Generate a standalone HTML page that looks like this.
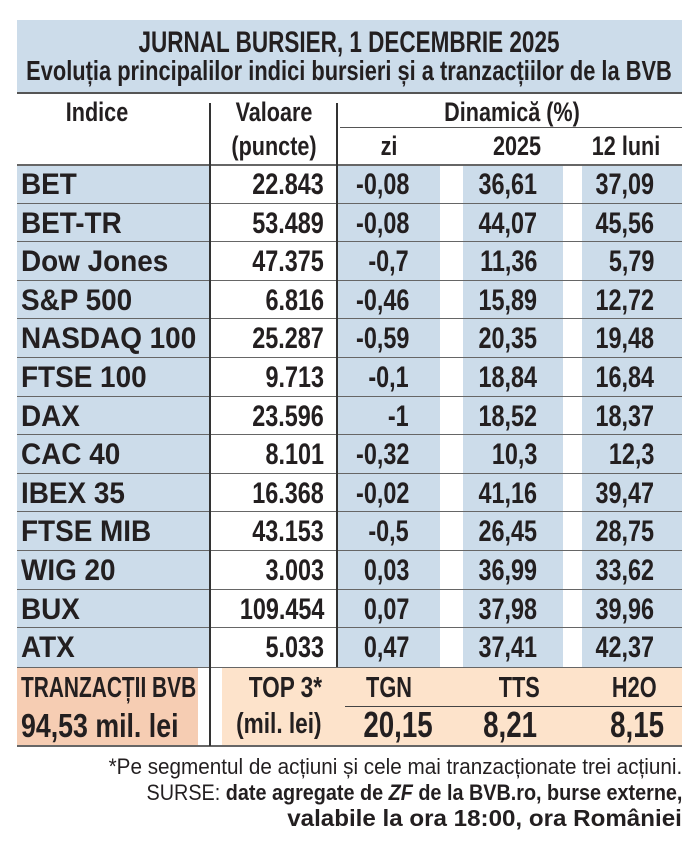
<!DOCTYPE html>
<html><head><meta charset="utf-8"><style>
body{margin:0;width:699px;height:852px;background:#fff;position:relative;overflow:hidden;font-family:"Liberation Sans",sans-serif;color:#231f20}
.b{position:absolute}
.t{position:absolute;white-space:nowrap;font-weight:bold;line-height:1}
</style></head><body>
<div class="b" style="left:17px;top:20px;width:665px;height:73px;background:#ccdcea"></div>
<div class="b" style="left:17px;top:92px;width:665px;height:2px;background:#555"></div>
<div class="t" style="left:349px;top:28px;font-size:30px;transform:translateX(-50%) scaleX(.75)">JURNAL BURSIER, 1 DECEMBRIE 2025</div>
<div class="t" style="left:349px;top:57px;font-size:28px;transform:translateX(-50%) scaleX(.78)">Evoluția principalilor indici bursieri și a tranzacțiilor de la BVB</div>

<div class="t" style="left:97px;top:99px;font-size:27px;transform:translateX(-50%) scaleX(.8)">Indice</div>
<div class="t" style="left:274px;top:99px;font-size:27px;transform:translateX(-50%) scaleX(.8)">Valoare</div>
<div class="t" style="left:274px;top:133px;font-size:27px;transform:translateX(-50%) scaleX(.8)">(puncte)</div>
<div class="t" style="left:512px;top:99px;font-size:27px;transform:translateX(-50%) scaleX(.8)">Dinamică (%)</div>
<div class="b" style="left:340px;top:127px;width:342px;height:1px;background:#555"></div>
<div class="t" style="left:389px;top:133px;font-size:27px;transform:translateX(-50%) scaleX(.8)">zi</div>
<div class="t" style="left:517px;top:133px;font-size:27px;transform:translateX(-50%) scaleX(.8)">2025</div>
<div class="t" style="left:626px;top:133px;font-size:27px;transform:translateX(-50%) scaleX(.8)">12 luni</div>

<div id="rows"></div>
<script>
var d=[["BET","22.843","-0,08","36,61","37,09"],["BET-TR","53.489","-0,08","44,07","45,56"],["Dow Jones","47.375","-0,7","11,36","5,79"],["S&amp;P 500","6.816","-0,46","15,89","12,72"],["NASDAQ 100","25.287","-0,59","20,35","19,48"],["FTSE 100","9.713","-0,1","18,84","16,84"],["DAX","23.596","-1","18,52","18,37"],["CAC 40","8.101","-0,32","10,3","12,3"],["IBEX 35","16.368","-0,02","41,16","39,47"],["FTSE MIB","43.153","-0,5","26,45","28,75"],["WIG 20","3.003","0,03","36,99","33,62"],["BUX","109.454","0,07","37,98","39,96"],["ATX","5.033","0,47","37,41","42,37"]];
var h='',T0=165,H=38.6;
h+='<div class="b" style="left:17px;top:'+T0+'px;width:193px;height:'+(H*13)+'px;background:#ccdcea"></div>';
h+='<div class="b" style="left:338px;top:'+T0+'px;width:102px;height:'+(H*13)+'px;background:#ccdcea"></div>';
h+='<div class="b" style="left:463px;top:'+T0+'px;width:100px;height:'+(H*13)+'px;background:#ccdcea"></div>';
h+='<div class="b" style="left:582px;top:'+T0+'px;width:100px;height:'+(H*13)+'px;background:#ccdcea"></div>';
var R='transform:scaleX(.78);transform-origin:100% 0;';
for(var i=0;i<13;i++){var y=T0+i*H;
h+='<div class="b" style="left:17px;top:'+(y-1)+'px;width:665px;height:'+(i==0?2:1)+'px;background:#666"></div>';
var ty=y+5;
h+='<div class="t" style="left:21px;top:'+ty+'px;font-size:30px;transform:scaleX(.93);transform-origin:0 0">'+d[i][0]+'</div>';
h+='<div class="t" style="right:'+(699-324)+'px;top:'+ty+'px;font-size:30px;'+R+'">'+d[i][1]+'</div>';
h+='<div class="t" style="right:'+(699-409)+'px;top:'+ty+'px;font-size:30px;'+R+'">'+d[i][2]+'</div>';
h+='<div class="t" style="right:'+(699-537)+'px;top:'+ty+'px;font-size:30px;'+R+'">'+d[i][3]+'</div>';
h+='<div class="t" style="right:'+(699-654)+'px;top:'+ty+'px;font-size:30px;'+R+'">'+d[i][4]+'</div>';}
document.getElementById('rows').innerHTML=h;
</script>
<div class="b" style="left:336px;top:103px;width:2px;height:565px;background:#333"></div>

<div class="b" style="left:17px;top:668px;width:181px;height:77px;background:#f6cdb3"></div>
<div class="b" style="left:222px;top:668px;width:460px;height:77px;background:#fde3cb"></div>
<div class="b" style="left:17px;top:667px;width:665px;height:1px;background:#666"></div>
<div class="b" style="left:17px;top:745px;width:665px;height:2px;background:#666"></div>
<div class="b" style="left:209px;top:103px;width:2px;height:643px;background:#333"></div>
<div class="b" style="left:345px;top:706px;width:337px;height:1px;background:#444"></div>
<div class="t" style="left:21px;top:674px;font-size:29px;transform:scaleX(.72);transform-origin:0 0">TRANZACȚII BVB</div>
<div class="t" style="left:21px;top:709px;font-size:33px;transform:scaleX(.81);transform-origin:0 0">94,53 mil. lei</div>
<div class="t" style="right:377px;top:674px;font-size:29px;transform:scaleX(.78);transform-origin:100% 0">TOP 3*</div>
<div class="t" style="right:377px;top:710px;font-size:29px;transform:scaleX(.78);transform-origin:100% 0">(mil. lei)</div>
<div class="t" style="left:389px;top:674px;font-size:29px;transform:translateX(-50%) scaleX(.75)">TGN</div>
<div class="t" style="right:159px;top:674px;font-size:29px;transform:scaleX(.75);transform-origin:100% 0">TTS</div>
<div class="t" style="right:42px;top:674px;font-size:29px;transform:scaleX(.75);transform-origin:100% 0">H2O</div>
<div class="t" style="left:398px;top:707px;font-size:36px;transform:translateX(-50%) scaleX(.77)">20,15</div>
<div class="t" style="right:162px;top:707px;font-size:36px;transform:scaleX(.77);transform-origin:100% 0">8,21</div>
<div class="t" style="right:35px;top:707px;font-size:36px;transform:scaleX(.77);transform-origin:100% 0">8,15</div>

<div class="t" style="right:17px;top:756px;font-size:22px;font-weight:normal;transform:scaleX(.94);transform-origin:100% 0">*Pe segmentul de acțiuni și cele mai tranzacționate trei acțiuni.</div>
<div class="t" style="right:17px;top:782px;font-size:22px;transform:scaleX(.9);transform-origin:100% 0"><span style="font-weight:normal">SURSE: </span>date agregate de <i>ZF</i> de la BVB.ro, burse externe,</div>
<div class="t" style="right:17px;top:807px;font-size:23px;transform:scaleX(1.05);transform-origin:100% 0">valabile la ora 18:00, ora României</div>
</body></html>
